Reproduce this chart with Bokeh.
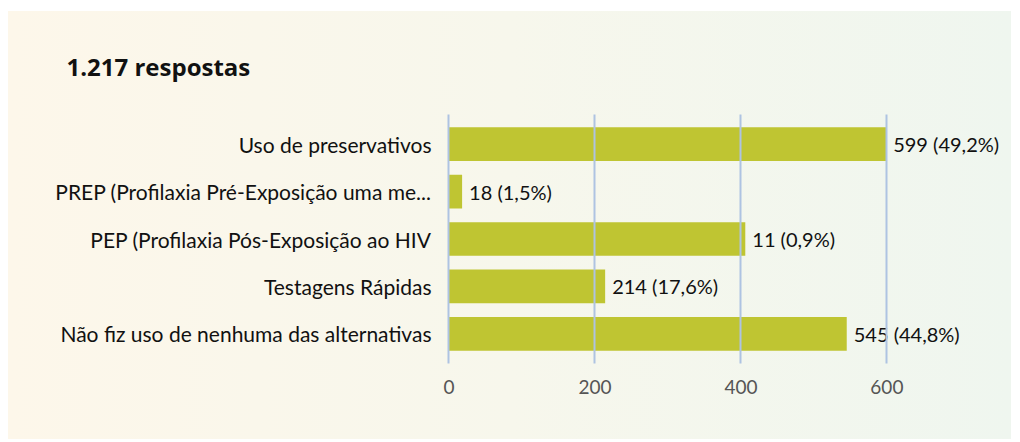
from bokeh.plotting import figure
from bokeh.models import ColumnDataSource, FixedTicker, FactorRange, Range1d
from bokeh.core.properties import value
from bokeh.embed import file_html
from bokeh.resources import INLINE

# ---- data ----
title_text = "1.217 respostas"
categories = [
    "Uso de preservativos",
    "PREP (Profilaxia Pré-Exposição uma me...",
    "PEP (Profilaxia Pós-Exposição ao HIV",
    "Testagens Rápidas",
    "Não fiz uso de nenhuma das alternativas",
]
bar_lengths = [599, 18, 406, 214, 545]
counts = [599, 18, 11, 214, 545]
percents = ["49,2%", "1,5%", "0,9%", "17,6%", "44,8%"]
x_ticks = [0, 200, 400, 600]

labels = [f"{c} ({p})" for c, p in zip(counts, percents)]
src = ColumnDataSource(dict(cat=categories, val=bar_lengths, lab=labels))

p = figure(
    y_range=FactorRange(factors=list(reversed(categories)), range_padding=0.05),
    x_range=Range1d(-2, 768),
    frame_width=562, frame_height=249,
    min_border_left=439, min_border_right=2, min_border_top=103, min_border_bottom=76,
    output_backend="svg", toolbar_location=None,
)
p.styles = {
    "background": "linear-gradient(90deg, #fdf7ea 0%, #f7f7ec 50%, #eff6ef 100%)",
    "margin-left": "8px",
    "margin-top": "11px",
}
p.border_fill_color = None
p.background_fill_color = None
p.outline_line_color = None

p.hbar(y="cat", right="val", left=0, height=0.71, source=src,
       fill_color="#bfc532", line_color=None)
p.text(x="val", y="cat", text="lab", source=src, x_offset=7,
       text_baseline="middle", text_align="left",
       text_font=value("Lato"), text_font_size="20px", text_color="#111111")

p.title.text = title_text
p.title.text_font = "Open Sans"
p.title.text_font_style = "bold"
p.title.text_font_size = "24px"
p.title.text_color = "#111111"
p.title.align = "left"
p.title.offset = -381
p.title.standoff = 64

p.xgrid.ticker = FixedTicker(ticks=x_ticks)
p.xgrid.grid_line_color = "#aec3e2"
p.xgrid.grid_line_width = 2
p.xgrid.level = "overlay"
p.ygrid.grid_line_color = None

p.xaxis.ticker = FixedTicker(ticks=x_ticks)
p.xaxis.axis_line_color = None
p.xaxis.major_tick_line_color = None
p.xaxis.minor_tick_line_color = None
p.xaxis.major_label_text_font = "Lato"
p.xaxis.major_label_text_font_size = "19px"
p.xaxis.major_label_text_font_style = "normal"
p.xaxis.major_label_text_color = "#555555"
p.xaxis.major_label_standoff = 10

p.yaxis.axis_line_color = None
p.yaxis.major_tick_line_color = None
p.yaxis.minor_tick_line_color = None
p.yaxis.major_label_text_font = "Lato"
p.yaxis.major_label_text_font_size = "21px"
p.yaxis.major_label_text_color = "#111111"
p.yaxis.major_label_standoff = 10

open("out.html", "w").write(file_html(p, INLINE))
